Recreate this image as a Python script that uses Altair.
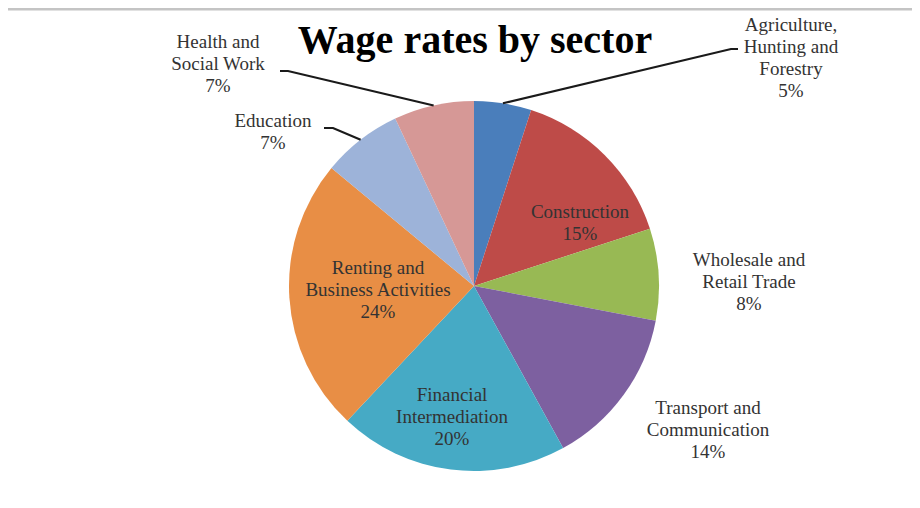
import math
import altair as alt
import pandas as pd

# ---- data ----
sectors = [
    "Agriculture, Hunting and Forestry",
    "Construction",
    "Wholesale and Retail Trade",
    "Transport and Communication",
    "Financial Intermediation",
    "Renting and Business Activities",
    "Education",
    "Health and Social Work",
]
shares = [5, 15, 8, 14, 20, 24, 7, 7]
label_lines = [
    ["Agriculture,", "Hunting and", "Forestry"],
    ["Construction"],
    ["Wholesale and", "Retail Trade"],
    ["Transport and", "Communication"],
    ["Financial", "Intermediation"],
    ["Renting and", "Business Activities"],
    ["Education"],
    ["Health and", "Social Work"],
]
colors = ["#4A7EBB", "#BE4B48", "#98B954", "#7D60A0", "#46AAC5", "#E88E45", "#9DB3D9", "#D69896"]
title_text = "Wage rates by sector"

# ---- layout (plot-area pixel coords) ----
W, H = 904, 492
CX, CY, R = 466, 278, 185
LINE_H = 22
# first-line center of each label block
label_pos = {
    sectors[0]: (783, 17),
    sectors[1]: (572, 204),
    sectors[2]: (741, 252),
    sectors[3]: (700, 400),
    sectors[4]: (444, 387),
    sectors[5]: (370, 260),
    sectors[6]: (265, 113),
    sectors[7]: (210, 34),
}
# leader lines: elbow and end points
leaders = {
    sectors[0]: [(723, 41), (730, 41)],
    sectors[6]: [(325, 120), (316, 120)],
    sectors[7]: [(280, 63), (272, 63)],
}

pie_df = pd.DataFrame({"sector": sectors, "share": shares, "order": list(range(len(sectors)))})

# text rows
rows = []
for s, sh, lines in zip(sectors, shares, label_lines):
    x0, y0 = label_pos[s]
    for i, t in enumerate(lines + [f"{sh}%"]):
        rows.append({"sector": s, "text": t, "x": x0, "y": y0 + i * LINE_H})
text_df = pd.DataFrame(rows)

# leader line rows: start on pie edge at slice mid-angle
total = sum(shares)
cum = 0
lrows = []
for s, sh in zip(sectors, shares):
    mid = (cum + sh / 2) / total * 2 * math.pi
    cum += sh
    if s in leaders:
        pts = [(CX + R * math.sin(mid), CY - R * math.cos(mid))] + leaders[s]
        for k, (px, py) in enumerate(pts):
            lrows.append({"sector": s, "k": k, "x": px, "y": py})
lead_df = pd.DataFrame(lrows)

color_scale = alt.Scale(domain=sectors, range=colors)

pie = alt.Chart(pie_df).mark_arc(radius=R, x=CX, y=CY).encode(
    theta=alt.Theta("share:Q", stack=True),
    color=alt.Color("sector:N", scale=color_scale, legend=None),
    order=alt.Order("order:Q"),
)

texts = alt.Chart(text_df).mark_text(
    font="Liberation Serif", fontSize=19, color="#333333", align="center", baseline="middle"
).encode(
    x=alt.X("x:Q", scale=None),
    y=alt.Y("y:Q", scale=None),
    text="text:N",
)

lines = alt.Chart(lead_df).mark_line(color="#1a1a1a", strokeWidth=2.2).encode(
    x=alt.X("x:Q", scale=None),
    y=alt.Y("y:Q", scale=None),
    detail="sector:N",
    order="k:Q",
)

title = alt.Chart(pd.DataFrame({"t": [title_text]})).mark_text(
    font="Liberation Serif", fontSize=40, fontWeight="bold", color="#000000",
    align="center", baseline="middle",
).encode(x=alt.value(467), y=alt.value(33), text="t:N")

topline = alt.Chart(pd.DataFrame({"a": [0]})).mark_rule(color="#c4c4c4", strokeWidth=3).encode(
    x=alt.value(0), x2=alt.value(W), y=alt.value(1)
)

chart = alt.layer(topline, pie, lines, texts, title).properties(
    width=W, height=H, autosize=alt.AutoSizeParams(type="none"), padding=0, background="#ffffff"
).configure_view(stroke=None)

chart.save("out.html", embed_options={"renderer": "svg", "actions": False})
